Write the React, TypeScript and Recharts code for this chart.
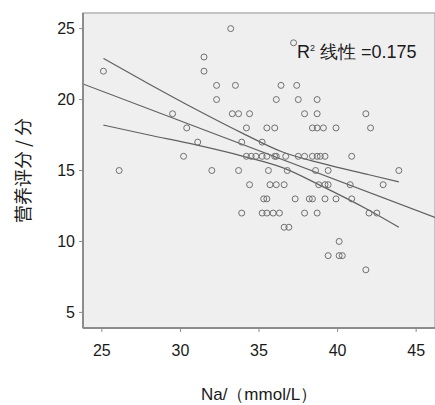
import {
  ComposedChart,
  Scatter,
  Line,
  XAxis,
  YAxis,
  ReferenceArea,
} from 'recharts';

// nutrition score levels and the Na values (mmol/L) seen at each level
const scoreLevels = [25, 24, 23, 22, 21, 20, 19, 18, 17, 16, 15, 14, 13, 12, 11, 10, 9, 8];
const sodiumByLevel = [
  [33.2],
  [37.2],
  [31.5],
  [25.1, 31.5],
  [32.3, 33.5, 36.4, 37.4],
  [32.3, 36.1, 37.5, 38.7],
  [29.5, 33.3, 33.7, 34.4, 37.9, 38.7, 41.8],
  [30.4, 34.2, 35.5, 36.0, 38.4, 38.7, 39.1, 39.9, 42.1],
  [31.1, 33.9, 35.2],
  [30.2, 34.2, 34.5, 34.8, 35.2, 35.5, 36.0, 36.1, 36.7, 37.5, 37.9, 38.4, 38.7, 38.9, 39.2, 40.9],
  [26.1, 32.0, 33.7, 35.6, 36.8, 38.6, 39.4, 43.9],
  [34.4, 35.7, 36.1, 36.6, 38.8, 39.2, 39.4, 40.8, 42.9],
  [35.3, 35.5, 37.3, 38.2, 38.4, 39.2, 39.9, 40.9],
  [33.9, 35.2, 35.5, 35.9, 36.3, 37.9, 38.7, 42.0, 42.5],
  [36.6, 36.9],
  [40.1],
  [39.4, 40.1, 40.3],
  [41.8],
];

// linear fit line
const fitX = [23.8, 46.2];
const fitY = [21.1, 11.7];

// 95% mean confidence band
const bandX = [25.1, 28, 31, 34, 36.5, 39, 42, 43.9];
const upperBand = [22.9, 21.1, 19.3, 17.6, 16.3, 15.5, 14.7, 14.2];
const lowerBand = [18.2, 17.5, 16.8, 16.0, 15.2, 13.9, 12.2, 11.0];

const xTicks = [25, 30, 35, 40, 45];
const yTicks = [5, 10, 15, 20, 25];
const xDomain: [number, number] = [23.8, 46.2];
const yDomain: [number, number] = [3.9, 26.1];

const points = scoreLevels.flatMap((s, i) => sodiumByLevel[i].map((na) => ({ x: na, y: s })));
const fitData = fitX.map((x, i) => ({ x, y: fitY[i] }));
const upperData = bandX.map((x, i) => ({ x, y: upperBand[i] }));
const lowerData = bandX.map((x, i) => ({ x, y: lowerBand[i] }));

const tickFont = "'Liberation Sans Narrow', 'Liberation Sans', Arial, sans-serif";

function Ring(props: any) {
  return <circle cx={props.cx} cy={props.cy} r={3} fill="none" stroke="#707070" strokeWidth={1} />;
}

export default function App() {
  return (
    <div style={{ position: 'absolute', left: 0, top: 0, width: 435, height: 405, background: '#fff' }}>
      <ComposedChart width={435} height={405} margin={{ top: 13, right: 0, bottom: 0, left: 0 }}>
        <ReferenceArea
          x1={xDomain[0]}
          x2={xDomain[1]}
          y1={yDomain[0]}
          y2={yDomain[1]}
          fill="#f0eff0"
          fillOpacity={1}
          stroke="#b4b4b4"
          strokeWidth={1.5}
          ifOverflow="extendDomain"
        />
        <XAxis
          type="number"
          dataKey="x"
          domain={xDomain}
          ticks={xTicks}
          allowDataOverflow
          height={77}
          axisLine={{ stroke: '#8c8c8c', strokeWidth: 2 }}
          tickLine={{ stroke: '#8c8c8c' }}
          tickSize={4}
          tickMargin={13}
          tick={{ fill: '#1a1a1a', fontSize: 16, fontFamily: tickFont }}
          label={{
            value: 'Na/（mmol/L）',
            position: 'insideBottom',
            offset: 5,
            style: { fill: '#1a1a1a', fontSize: 17, fontFamily: tickFont },
          }}
        />
        <YAxis
          type="number"
          dataKey="y"
          domain={yDomain}
          ticks={yTicks}
          allowDataOverflow
          width={83}
          axisLine={{ stroke: '#8c8c8c', strokeWidth: 2 }}
          tickLine={{ stroke: '#8c8c8c' }}
          tickSize={4}
          tickMargin={4}
          tick={{ fill: '#1a1a1a', fontSize: 16, fontFamily: tickFont }}
          label={{
            value: '营养评分 / 分',
            angle: -90,
            position: 'insideLeft',
            offset: 24,
            style: { fill: '#1a1a1a', fontSize: 18, fontFamily: "'Noto Sans CJK SC', sans-serif", textAnchor: 'middle' },
          }}
        />
        <Scatter data={points} dataKey="y" shape={Ring} isAnimationActive={false} />
        <Line data={fitData} dataKey="y" type="linear" stroke="#606060" strokeWidth={1.2} dot={false} isAnimationActive={false} />
        <Line data={upperData} dataKey="y" type="monotone" stroke="#606060" strokeWidth={1.2} dot={false} isAnimationActive={false} />
        <Line data={lowerData} dataKey="y" type="monotone" stroke="#606060" strokeWidth={1.2} dot={false} isAnimationActive={false} />
      </ComposedChart>
      <div
        style={{
          position: 'absolute',
          left: 297,
          top: 42,
          fontSize: 18,
          fontFamily: tickFont,
          color: '#1a1a1a',
          whiteSpace: 'nowrap',
          lineHeight: '20px',
        }}
      >
        R<sup style={{ fontSize: 9, verticalAlign: 'top', lineHeight: '12px' }}>2</sup> 线性 =0.175
      </div>
    </div>
  );
}
